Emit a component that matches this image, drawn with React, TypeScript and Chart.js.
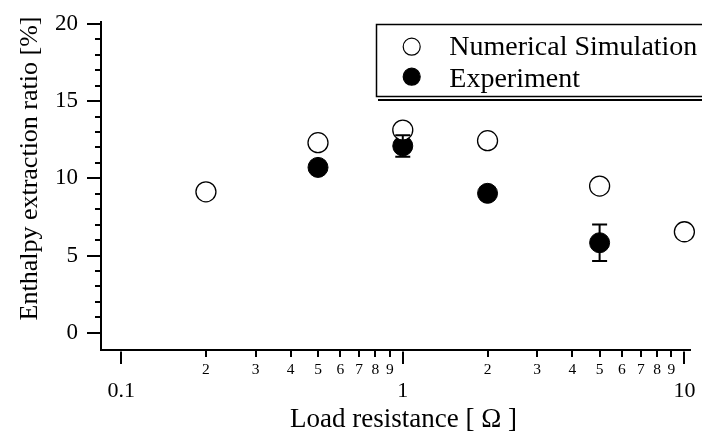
import React, { useEffect, useRef } from 'react';
import { Chart, registerables } from 'chart.js';

Chart.register(...registerables);

// ---- data ----
const SERIES_NAMES = ['Numerical Simulation', 'Experiment'];
const SIM_X = [0.2, 0.5, 1, 2, 5, 10];
const SIM_Y = [9.13, 12.31, 13.13, 12.44, 9.5, 6.54];
const EXP_X = [0.5, 1, 2, 5];
const EXP_Y = [10.71, 12.1, 9.03, 5.83];
const EXP_ERR = [0, 0.7, 0, 1.18];

const X_TICK_VALUES = [0.1, 0.2, 0.3, 0.4, 0.5, 0.6, 0.7, 0.8, 0.9, 1, 2, 3, 4, 5, 6, 7, 8, 9, 10];
const X_TICK_LABELS = ['0.1', '2', '3', '4', '5', '6', '7', '8', '9', '1', '2', '3', '4', '5', '6', '7', '8', '9', '10'];
const X_MAJOR = [0.1, 1, 10];
const Y_TICK_VALUES = [0, 5, 10, 15, 20];
const Y_MINOR_TICKS = [0, 1, 2, 3, 4, 5, 6, 7, 8, 9, 10, 11, 12, 13, 14, 15, 16, 17, 18, 19, 20];
const X_TITLE = 'Load resistance [ \u03A9 ]';
const Y_TITLE = 'Enthalpy extraction ratio [%]';

const FONT = "'Liberation Serif', 'Times New Roman', serif";

const tickMarksPlugin = {
  id: 'tickMarks',
  afterDraw(chart: any) {
    const { ctx, chartArea } = chart;
    const x = chart.scales.x;
    const y = chart.scales.y;
    ctx.save();
    ctx.strokeStyle = '#000';
    ctx.lineWidth = 2;
    X_TICK_VALUES.forEach((v) => {
      const px = Math.round(x.getPixelForValue(v));
      const major = X_MAJOR.includes(v);
      const len = major ? 14 : 7;
      ctx.beginPath();
      ctx.moveTo(px, chartArea.bottom + (major ? 1.5 : 0));
      ctx.lineTo(px, chartArea.bottom + len);
      ctx.stroke();
    });
    Y_MINOR_TICKS.forEach((v) => {
      const py = Math.round(y.getPixelForValue(v));
      const len = v % 5 === 0 ? 14 : 6;
      ctx.beginPath();
      ctx.moveTo(chartArea.left, py);
      ctx.lineTo(chartArea.left - len, py);
      ctx.stroke();
    });
    ctx.restore();
  },
};

const errorBarPlugin = {
  id: 'errorBars',
  afterDatasetsDraw(chart: any) {
    const { ctx } = chart;
    const x = chart.scales.x;
    const y = chart.scales.y;
    ctx.save();
    ctx.strokeStyle = '#000';
    ctx.lineWidth = 2;
    EXP_X.forEach((xv, i) => {
      const e = EXP_ERR[i];
      if (!e) return;
      const px = x.getPixelForValue(xv);
      const top = y.getPixelForValue(EXP_Y[i] + e);
      const bot = y.getPixelForValue(EXP_Y[i] - e);
      ctx.beginPath();
      ctx.moveTo(px, top);
      ctx.lineTo(px, bot);
      ctx.moveTo(px - 7.5, top);
      ctx.lineTo(px + 7.5, top);
      ctx.moveTo(px - 7.5, bot);
      ctx.lineTo(px + 7.5, bot);
      ctx.stroke();
    });
    ctx.restore();
  },
};

const titlesPlugin = {
  id: 'axisTitles',
  afterDraw(chart: any) {
    const { ctx } = chart;
    ctx.save();
    ctx.fillStyle = '#000';
    ctx.textBaseline = 'alphabetic';
    ctx.textAlign = 'center';
    ctx.font = `27px ${FONT}`;
    ctx.fillText(X_TITLE, 403.5, 427);
    ctx.font = `26px ${FONT}`;
    ctx.translate(36.5, 168.5);
    ctx.rotate(-Math.PI / 2);
    ctx.fillText(Y_TITLE, 0, 0);
    ctx.restore();
  },
};

const legendPlugin = {
  id: 'boxLegend',
  afterDraw(chart: any) {
    const { ctx, width } = chart;
    const bx = 376.5;
    const by = 24.5;
    const bh = 72;
    ctx.save();
    ctx.fillStyle = '#fff';
    ctx.fillRect(bx, by, width - bx + 20, bh);
    ctx.strokeStyle = '#000';
    ctx.lineWidth = 1.5;
    ctx.strokeRect(bx, by, width - bx + 20, bh);
    ctx.lineWidth = 2;
    ctx.beginPath();
    ctx.moveTo(bx + 1.5, by + bh + 3.5);
    ctx.lineTo(width + 5, by + bh + 3.5);
    ctx.stroke();

    const mx = 411.7;
    const rows = [46.7, 76.7];
    const base = [55, 86.5];
    rows.forEach((ry, i) => {
      ctx.beginPath();
      ctx.arc(mx, ry, 8.5, 0, Math.PI * 2);
      ctx.fillStyle = i === 0 ? '#fff' : '#000';
      ctx.fill();
      ctx.lineWidth = 1.2;
      ctx.strokeStyle = '#000';
      ctx.stroke();
      ctx.fillStyle = '#000';
      ctx.font = `28px ${FONT}`;
      ctx.textAlign = 'left';
      ctx.textBaseline = 'alphabetic';
      ctx.fillText(SERIES_NAMES[i], 449.3, base[i]);
    });
    ctx.restore();
  },
};

export default function App() {
  const canvasRef = useRef<HTMLCanvasElement | null>(null);

  useEffect(() => {
    if (!canvasRef.current) return;
    const chart = new Chart(canvasRef.current, {
      type: 'scatter',
      data: {
        datasets: [
          {
            label: SERIES_NAMES[0],
            data: SIM_X.map((xv, i) => ({ x: xv, y: SIM_Y[i] })),
            pointRadius: 10,
            pointHoverRadius: 10,
            pointBackgroundColor: '#fff',
            pointBorderColor: '#000',
            pointBorderWidth: 1.3,
            showLine: false,
            clip: false,
          } as any,
          {
            label: SERIES_NAMES[1],
            data: EXP_X.map((xv, i) => ({ x: xv, y: EXP_Y[i] })),
            pointRadius: 10,
            pointHoverRadius: 10,
            pointBackgroundColor: '#000',
            pointBorderColor: '#000',
            pointBorderWidth: 1,
            showLine: false,
            clip: false,
          } as any,
        ],
      },
      options: {
        animation: false,
        responsive: false,
        devicePixelRatio: 1,
        events: [],
        layout: { padding: { left: 0, top: 22, right: 9, bottom: 0 } },
        plugins: {
          legend: { display: false },
          tooltip: { enabled: false },
          title: { display: false },
        },
        scales: {
          x: {
            type: 'logarithmic',
            position: 'bottom',
            min: 0.0848,
            max: 10.53,
            bounds: 'data',
            afterBuildTicks: (s: any) => {
              s.ticks = X_TICK_VALUES.map((v) => ({ value: v, major: X_MAJOR.includes(v) }));
            },
            afterFit: (s: any) => {
              s.height = 84;
              s.paddingLeft = 0;
              s.paddingRight = 0;
            },
            grid: { display: false, drawTicks: false },
            border: { display: true, color: '#000', width: 2 },
            ticks: {
              autoSkip: false,
              maxRotation: 0,
              minRotation: 0,
              padding: 11,
              color: '#000',
              font: (c: any) =>
                c.tick && c.tick.major
                  ? { family: FONT, size: 22, lineHeight: 2.75 }
                  : { family: FONT, size: 15.5, lineHeight: 1.2 },
              callback: (_v: any, i: number) => X_TICK_LABELS[i],
            },
          } as any,
          y: {
            type: 'linear',
            position: 'left',
            min: -1.12,
            max: 20.13,
            bounds: 'data',
            afterBuildTicks: (s: any) => {
              s.ticks = Y_TICK_VALUES.map((v) => ({ value: v }));
            },
            afterFit: (s: any) => {
              s.width = 101;
              s.paddingTop = 0;
              s.paddingBottom = 0;
            },
            grid: { display: false, drawTicks: false },
            border: { display: true, color: '#000', width: 2 },
            ticks: {
              padding: 23,
              color: '#000',
              font: { family: FONT, size: 23 },
              callback: (v: any) => String(v),
            },
          } as any,
        },
      },
      plugins: [errorBarPlugin, tickMarksPlugin, titlesPlugin, legendPlugin],
    });
    return () => chart.destroy();
  }, []);

  return (
    <div style={{ position: 'fixed', left: 0, top: 0, width: 702, height: 434, background: '#fff' }}>
      <canvas ref={canvasRef} width={702} height={434} style={{ display: 'block', width: 702, height: 434 }} />
    </div>
  );
}
